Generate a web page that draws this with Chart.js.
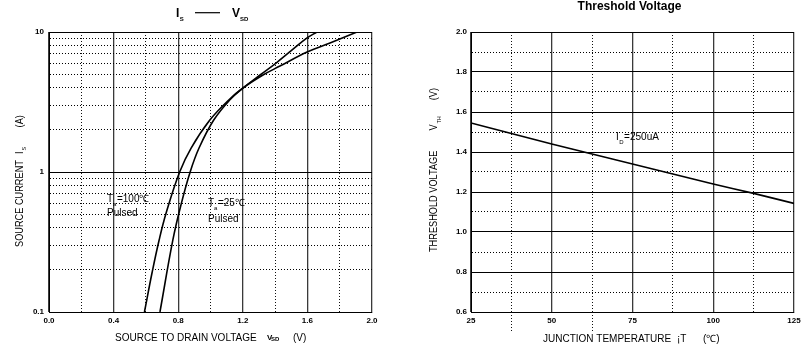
<!DOCTYPE html>
<html><head><meta charset="utf-8">
<script src="https://cdn.jsdelivr.net/npm/chart.js@4.4.1/dist/chart.umd.min.js"></script>
<style>
html,body{margin:0;padding:0;background:#fff;width:806px;height:349px;overflow:hidden}
#c1{position:absolute;left:0;top:0}
#c2{position:absolute;left:403px;top:0}
</style></head><body>
<canvas id="c1" width="403" height="349"></canvas>
<canvas id="c2" width="403" height="349"></canvas>
<script>
// ---------- data: Is - Vsd ----------
const vsd100 = [0.591,0.639,0.682,0.727,0.809,0.880,0.996,1.113,1.201,1.325,1.430,1.598,1.740,1.907];
const is100  = [0.1,0.193,0.327,0.518,1.0,1.483,2.35,3.27,3.98,4.93,5.71,7.2,8.35,10];
const vsd25  = [0.687,0.767,0.817,0.874,0.929,1.020,1.119,1.201,1.307,1.406,1.498,1.598,1.659];
const is25   = [0.1,0.327,0.581,1.0,1.483,2.35,3.27,3.98,4.93,6.00,7.32,9.07,10];
const xGrid1 = [0,0.2,0.4,0.6,0.8,1.0,1.2,1.4,1.6,1.8,2.0];
const xLabels1 = ['0.0','','0.4','','0.8','','1.2','','1.6','','2.0'];
const yGrid1 = [0.1,0.2,0.3,0.4,0.5,0.6,0.7,0.8,0.9,1,2,3,4,5,6,7,8,9,10];
const yLabels1 = ['0.1','','','','','','','','','1','','','','','','','','','10'];
// ---------- data: Threshold voltage ----------
const tj  = [25,37.5,50,62.5,75,87.5,100,112.5,125];
const vth = [1.545,1.493,1.44,1.39,1.34,1.29,1.24,1.193,1.143];
const xGrid2 = [25,37.5,50,62.5,75,87.5,100,112.5,125];
const xLabels2 = ['25','','50','','75','','100','','125'];
const yGrid2 = [0.6,0.7,0.8,0.9,1.0,1.1,1.2,1.3,1.4,1.5,1.6,1.7,1.8,1.9,2.0];
const yLabels2 = ['0.6','','0.8','','1.0','','1.2','','1.4','','1.6','','1.8','','2.0'];
const extendedGrid2 = [37.5, 62.5];

const FF = '"Liberation Sans", Arial, sans-serif';
const tickFont = {family: FF, size: 8, weight: 'bold'};

function pts(xs, ys){ return xs.map((x,i)=>({x:x, y:ys[i]})); }
function setTicks(vals){ return s => { s.ticks = vals.map(v=>({value:v})); }; }
function isMajor(labels){ return c => c.tick !== undefined && labels[c.index] !== '' ; }

function txt(ctx, s, x, y, font){
  ctx.font = font; ctx.fillStyle = '#000'; ctx.textAlign='left'; ctx.textBaseline='alphabetic';
  ctx.fillText(s, x, y); return x + ctx.measureText(s).width;
}
function base(){
  return {
    type:'scatter',
    options:{
      responsive:false, animation:false, devicePixelRatio:1,
      plugins:{legend:{display:false}, tooltip:{enabled:false}, title:{display:false}},
      elements:{point:{radius:0}, line:{borderColor:'#000', borderWidth:1.6, tension:0.4}}
    }
  };
}

// ---------- chart 1 ----------
const textPlugin1 = {
  id:'t1',
  afterDraw(chart){
    const ctx = chart.ctx; ctx.save();
    // title
    let x = txt(ctx,'I',176,17.3,'bold 12px '+FF);
    txt(ctx,'S',x+0.5,20.7,'bold 6px '+FF);
    ctx.strokeStyle='#000'; ctx.lineWidth=1.2; ctx.beginPath(); ctx.moveTo(195,12.7); ctx.lineTo(220,12.7); ctx.stroke();
    x = txt(ctx,'V',232,17.3,'bold 12px '+FF);
    txt(ctx,'SD',x,20.7,'bold 6px '+FF);
    // annotations
    x = txt(ctx,'T',107,202,'10px '+FF);
    x = txt(ctx,'a',x,206,'6px '+FF);
    txt(ctx,'=100\u2103',x+0.5,202,'10px '+FF);
    txt(ctx,'Pulsed',107,216,'10px '+FF);
    x = txt(ctx,'T',208,206,'10px '+FF);
    x = txt(ctx,'a',x,210,'6px '+FF);
    txt(ctx,'=25\u2103',x+0.5,206,'10px '+FF);
    txt(ctx,'Pulsed',208,221.5,'10px '+FF);
    // x title
    txt(ctx,'SOURCE TO DRAIN VOLTAGE',115,341,'10px '+FF);
    txt(ctx,'V',267,340,'bold 8px '+FF);
    txt(ctx,'SD',271,341,'bold 6px '+FF);
    txt(ctx,'(V)',293,341,'10px '+FF);
    // y title
    ctx.translate(22.5,247); ctx.rotate(-Math.PI/2); ctx.scale(0.92,1);
    txt(ctx,'SOURCE CURRENT',0,0,'10px '+FF);
    x = txt(ctx,'I',101,0,'10px '+FF);
    txt(ctx,'S',x+1,3.5,'6px '+FF);
    txt(ctx,'(A)',130,0,'10px '+FF);
    ctx.restore();
  }
};
const cfg1 = base();
cfg1.data = {datasets:[
  {data:pts(vsd100,is100), showLine:true},
  {data:pts(vsd25,is25), showLine:true}
]};
cfg1.options.layout = {padding:{left:0,right:31,top:32,bottom:0}};
cfg1.options.scales = {
  x:{type:'linear', min:0, max:2,
     afterBuildTicks:setTicks(xGrid1),
     afterFit:s=>{s.height=37;},
     ticks:{autoSkip:false, maxRotation:0, padding:4, color:'#000', font:tickFont, callback:(v,i)=>xLabels1[i]},
     grid:{drawTicks:false, color:c=>isMajor(xLabels1)(c)?'#3a3a3a':'#111', lineWidth:c=>isMajor(xLabels1)(c)?1.3:1},
     border:{display:true, color:'#000', width:1, dash:c=> (c.tick===undefined||isMajor(xLabels1)(c))?[]:[1,2]}
  },
  y:{type:'logarithmic', min:0.1, max:10,
     afterBuildTicks:setTicks(yGrid1),
     afterFit:s=>{s.width=49;},
     ticks:{autoSkip:false, padding:5, color:'#000', font:tickFont, callback:(v,i)=>yLabels1[i]},
     grid:{drawTicks:false, color:'#000', lineWidth:1},
     border:{display:true, color:'#000', width:1, dash:c=> (c.tick===undefined||isMajor(yLabels1)(c))?[]:[1,2]}
  }
};
cfg1.plugins = [textPlugin1];
new Chart(document.getElementById('c1'), cfg1);

// ---------- chart 2 ----------
const textPlugin2 = {
  id:'t2',
  afterDraw(chart){
    const ctx = chart.ctx; ctx.save();
    const xs = chart.scales.x, area = chart.chartArea;
    // dotted extensions below axis
    ctx.strokeStyle='#111'; ctx.lineWidth=1; ctx.setLineDash([1,2]);
    extendedGrid2.forEach(v=>{ const px=Math.round(xs.getPixelForValue(v))+0.5; ctx.beginPath(); ctx.moveTo(px,area.bottom); ctx.lineTo(px,area.bottom+20); ctx.stroke(); });
    ctx.setLineDash([]);
    // title
    ctx.font='bold 12px '+FF; ctx.textAlign='center'; ctx.fillStyle='#000';
    ctx.fillText('Threshold Voltage',226.5,10);
    // annotation
    let x = txt(ctx,'I',213,140,'10px '+FF);
    x = txt(ctx,'D',x+0.5,144,'6px '+FF);
    txt(ctx,'=250uA',x+0.5,140,'10px '+FF);
    // x title
    txt(ctx,'JUNCTION TEMPERATURE',140,341.5,'10px '+FF);
    txt(ctx,'\u00a1T',274,341.5,'10px '+FF);
    txt(ctx,'(\u2103)',300,341.5,'10px '+FF);
    // y title
    ctx.translate(34,252); ctx.rotate(-Math.PI/2); ctx.scale(0.92,1);
    txt(ctx,'THRESHOLD VOLTAGE',0,0,'10px '+FF);
    x = txt(ctx,'V',132,0,'10px '+FF);
    txt(ctx,'TH',x+1,3.5,'6px '+FF);
    txt(ctx,'(V)',165,0,'10px '+FF);
    ctx.restore();
  }
};
const cfg2 = base();
cfg2.data = {datasets:[{data:pts(tj,vth), showLine:true}]};
cfg2.options.layout = {padding:{left:0,right:12,top:32,bottom:0}};
cfg2.options.scales = {
  x:{type:'linear', min:25, max:125,
     afterBuildTicks:setTicks(xGrid2),
     afterFit:s=>{s.height=37;},
     ticks:{autoSkip:false, maxRotation:0, padding:4, color:'#000', font:tickFont, callback:(v,i)=>xLabels2[i]},
     grid:{drawTicks:false, color:c=>isMajor(xLabels2)(c)?'#3a3a3a':'#111', lineWidth:c=>isMajor(xLabels2)(c)?1.3:1},
     border:{display:true, color:'#000', width:1, dash:c=> (c.tick===undefined||isMajor(xLabels2)(c))?[]:[1,2]}
  },
  y:{type:'linear', min:0.6, max:2.0,
     afterBuildTicks:setTicks(yGrid2),
     afterFit:s=>{s.width=68;},
     ticks:{autoSkip:false, padding:4, color:'#000', font:tickFont, callback:(v,i)=>yLabels2[i]},
     grid:{drawTicks:false, color:'#000', lineWidth:1},
     border:{display:true, color:'#000', width:1, dash:c=> (c.tick===undefined||isMajor(yLabels2)(c))?[]:[1,2]}
  }
};
cfg2.plugins = [textPlugin2];
new Chart(document.getElementById('c2'), cfg2);
</script>
</body></html>
